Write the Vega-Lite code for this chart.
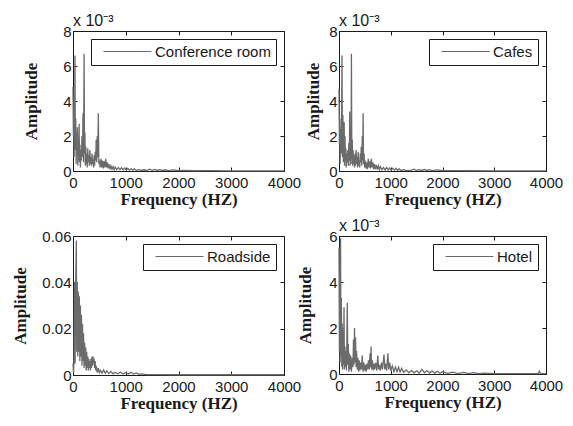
{
  "$schema": "https://vega.github.io/schema/vega-lite/v6.json",
  "background": "white",
  "padding": {"left": 11, "top": 12, "right": 5, "bottom": 5},
  "bounds": "flush",
  "columns": 2,
  "spacing": {"column": 55, "row": 65},
  "datasets": {
    "conf": [
      {"f":0,"a":4.8},{"f":8,"a":2.0},{"f":15,"a":3.5},{"f":22,"a":0.8},{"f":30,"a":2.8},{"f":38,"a":6.6},{"f":44,"a":1.2},{"f":52,"a":3.0},{"f":60,"a":0.4},{"f":68,"a":2.2},{"f":76,"a":0.9},{"f":84,"a":2.5},{"f":92,"a":0.3},{"f":100,"a":1.8},{"f":108,"a":0.6},{"f":116,"a":2.7},{"f":124,"a":0.5},{"f":132,"a":1.5},{"f":140,"a":0.2},{"f":150,"a":1.2},{"f":160,"a":0.6},{"f":170,"a":2.0},{"f":180,"a":0.8},{"f":190,"a":3.3},{"f":200,"a":0.5},{"f":210,"a":6.7},{"f":218,"a":1.0},{"f":226,"a":2.2},{"f":234,"a":0.3},{"f":242,"a":1.4},{"f":250,"a":0.4},{"f":260,"a":1.0},{"f":270,"a":0.2},{"f":280,"a":1.3},{"f":290,"a":0.5},{"f":300,"a":0.9},{"f":310,"a":0.3},{"f":320,"a":1.2},{"f":330,"a":0.4},{"f":340,"a":0.8},{"f":350,"a":0.3},{"f":360,"a":1.0},{"f":370,"a":0.4},{"f":380,"a":0.7},{"f":390,"a":0.2},{"f":400,"a":0.9},{"f":410,"a":0.3},{"f":420,"a":1.1},{"f":430,"a":0.6},{"f":440,"a":1.8},{"f":450,"a":0.5},{"f":460,"a":2.0},{"f":470,"a":0.8},{"f":480,"a":3.3},{"f":490,"a":0.4},{"f":500,"a":0.6},{"f":515,"a":0.2},{"f":530,"a":0.7},{"f":545,"a":0.2},{"f":560,"a":0.6},{"f":575,"a":0.15},{"f":590,"a":0.55},{"f":605,"a":0.2},{"f":620,"a":0.7},{"f":635,"a":0.2},{"f":650,"a":0.5},{"f":665,"a":0.15},{"f":680,"a":0.4},{"f":700,"a":0.1},{"f":720,"a":0.3},{"f":740,"a":0.1},{"f":760,"a":0.25},{"f":780,"a":0.08},{"f":800,"a":0.22},{"f":830,"a":0.08},{"f":860,"a":0.2},{"f":890,"a":0.07},{"f":920,"a":0.18},{"f":950,"a":0.06},{"f":980,"a":0.17},{"f":1010,"a":0.06},{"f":1040,"a":0.15},{"f":1070,"a":0.05},{"f":1100,"a":0.14},{"f":1130,"a":0.05},{"f":1160,"a":0.12},{"f":1200,"a":0.04},{"f":1250,"a":0.08},{"f":1300,"a":0.03},{"f":1350,"a":0.07},{"f":1400,"a":0.03},{"f":1450,"a":0.1},{"f":1500,"a":0.04},{"f":1550,"a":0.09},{"f":1600,"a":0.03},{"f":1650,"a":0.08},{"f":1700,"a":0.03},{"f":1750,"a":0.07},{"f":1800,"a":0.02},{"f":1900,"a":0.06},{"f":2000,"a":0.02},{"f":2100,"a":0.03},{"f":2300,"a":0.015},{"f":2600,"a":0.02},{"f":3000,"a":0.01},{"f":3500,"a":0.01},{"f":4000,"a":0.01}
    ],
    "cafe": [
      {"f":0,"a":4.7},{"f":8,"a":1.5},{"f":15,"a":3.0},{"f":22,"a":0.4},{"f":30,"a":2.4},{"f":40,"a":1.0},{"f":50,"a":3.4},{"f":58,"a":6.6},{"f":66,"a":0.8},{"f":75,"a":3.2},{"f":84,"a":0.5},{"f":92,"a":2.3},{"f":100,"a":2.8},{"f":108,"a":0.3},{"f":116,"a":2.0},{"f":124,"a":0.6},{"f":132,"a":1.3},{"f":140,"a":0.2},{"f":150,"a":1.0},{"f":160,"a":0.5},{"f":170,"a":1.2},{"f":180,"a":0.3},{"f":190,"a":1.6},{"f":200,"a":0.6},{"f":207,"a":3.4},{"f":215,"a":0.3},{"f":225,"a":1.0},{"f":233,"a":0.7},{"f":240,"a":6.7},{"f":248,"a":0.4},{"f":256,"a":1.8},{"f":264,"a":0.3},{"f":272,"a":1.2},{"f":280,"a":0.4},{"f":290,"a":0.9},{"f":300,"a":0.2},{"f":310,"a":1.0},{"f":320,"a":0.3},{"f":330,"a":1.2},{"f":340,"a":0.4},{"f":350,"a":0.8},{"f":360,"a":0.2},{"f":370,"a":1.1},{"f":380,"a":0.3},{"f":390,"a":0.6},{"f":400,"a":0.2},{"f":410,"a":1.0},{"f":420,"a":0.5},{"f":430,"a":1.4},{"f":440,"a":0.3},{"f":450,"a":2.0},{"f":458,"a":0.6},{"f":466,"a":3.3},{"f":474,"a":0.4},{"f":485,"a":1.0},{"f":495,"a":0.2},{"f":505,"a":0.6},{"f":520,"a":0.15},{"f":535,"a":0.5},{"f":550,"a":0.1},{"f":565,"a":0.7},{"f":580,"a":0.2},{"f":595,"a":0.55},{"f":610,"a":0.15},{"f":625,"a":0.7},{"f":640,"a":0.2},{"f":655,"a":0.5},{"f":670,"a":0.1},{"f":685,"a":0.4},{"f":700,"a":0.1},{"f":720,"a":0.35},{"f":740,"a":0.08},{"f":760,"a":0.3},{"f":780,"a":0.08},{"f":800,"a":0.25},{"f":830,"a":0.07},{"f":860,"a":0.2},{"f":890,"a":0.06},{"f":920,"a":0.2},{"f":950,"a":0.05},{"f":980,"a":0.18},{"f":1010,"a":0.05},{"f":1040,"a":0.16},{"f":1070,"a":0.04},{"f":1100,"a":0.15},{"f":1130,"a":0.04},{"f":1160,"a":0.12},{"f":1200,"a":0.03},{"f":1250,"a":0.08},{"f":1300,"a":0.02},{"f":1400,"a":0.05},{"f":1450,"a":0.1},{"f":1500,"a":0.03},{"f":1550,"a":0.08},{"f":1600,"a":0.03},{"f":1650,"a":0.09},{"f":1700,"a":0.03},{"f":1750,"a":0.08},{"f":1800,"a":0.02},{"f":1900,"a":0.06},{"f":2000,"a":0.02},{"f":2200,"a":0.02},{"f":2600,"a":0.015},{"f":3000,"a":0.01},{"f":4000,"a":0.01}
    ],
    "road": [
      {"f":0,"a":0.005},{"f":10,"a":0.001},{"f":20,"a":0.007},{"f":30,"a":0.040},{"f":40,"a":0.005},{"f":50,"a":0.038},{"f":63,"a":0.058},{"f":70,"a":0.010},{"f":80,"a":0.040},{"f":90,"a":0.008},{"f":100,"a":0.036},{"f":110,"a":0.010},{"f":120,"a":0.034},{"f":130,"a":0.006},{"f":140,"a":0.030},{"f":150,"a":0.008},{"f":160,"a":0.026},{"f":170,"a":0.004},{"f":180,"a":0.022},{"f":190,"a":0.006},{"f":200,"a":0.018},{"f":210,"a":0.003},{"f":220,"a":0.014},{"f":230,"a":0.004},{"f":240,"a":0.012},{"f":250,"a":0.002},{"f":260,"a":0.010},{"f":270,"a":0.003},{"f":280,"a":0.008},{"f":290,"a":0.002},{"f":300,"a":0.007},{"f":310,"a":0.003},{"f":320,"a":0.006},{"f":330,"a":0.002},{"f":340,"a":0.007},{"f":350,"a":0.003},{"f":360,"a":0.008},{"f":370,"a":0.004},{"f":380,"a":0.008},{"f":390,"a":0.005},{"f":400,"a":0.007},{"f":410,"a":0.003},{"f":420,"a":0.006},{"f":430,"a":0.002},{"f":440,"a":0.004},{"f":460,"a":0.001},{"f":480,"a":0.003},{"f":500,"a":0.001},{"f":520,"a":0.002},{"f":550,"a":0.0008},{"f":580,"a":0.0022},{"f":610,"a":0.0008},{"f":640,"a":0.0018},{"f":680,"a":0.0006},{"f":720,"a":0.0015},{"f":760,"a":0.0005},{"f":800,"a":0.0012},{"f":850,"a":0.0005},{"f":900,"a":0.0012},{"f":950,"a":0.0004},{"f":1000,"a":0.0011},{"f":1050,"a":0.0004},{"f":1100,"a":0.0012},{"f":1150,"a":0.0004},{"f":1200,"a":0.0009},{"f":1250,"a":0.0003},{"f":1300,"a":0.0005},{"f":1400,"a":0.0002},{"f":1600,"a":0.0002},{"f":2000,"a":0.0001},{"f":3000,"a":0.0001},{"f":4000,"a":0.0001}
    ],
    "hotel": [
      {"f":0,"a":5.5},{"f":8,"a":1.0},{"f":15,"a":3.4},{"f":22,"a":0.5},{"f":30,"a":5.9},{"f":38,"a":0.8},{"f":46,"a":3.3},{"f":54,"a":0.3},{"f":62,"a":2.2},{"f":70,"a":0.2},{"f":80,"a":1.9},{"f":88,"a":0.4},{"f":97,"a":2.9},{"f":105,"a":0.2},{"f":115,"a":1.2},{"f":125,"a":0.3},{"f":135,"a":1.0},{"f":145,"a":0.15},{"f":160,"a":3.1},{"f":170,"a":0.4},{"f":180,"a":1.3},{"f":190,"a":0.1},{"f":200,"a":0.9},{"f":212,"a":0.2},{"f":225,"a":0.8},{"f":240,"a":0.1},{"f":255,"a":0.7},{"f":270,"a":0.3},{"f":280,"a":1.5},{"f":290,"a":0.4},{"f":300,"a":2.0},{"f":310,"a":0.5},{"f":320,"a":1.6},{"f":330,"a":0.3},{"f":340,"a":1.0},{"f":352,"a":0.2},{"f":365,"a":0.7},{"f":378,"a":0.1},{"f":390,"a":0.6},{"f":405,"a":0.15},{"f":420,"a":0.5},{"f":435,"a":0.2},{"f":450,"a":0.8},{"f":465,"a":0.1},{"f":480,"a":0.5},{"f":495,"a":0.15},{"f":510,"a":0.4},{"f":525,"a":0.1},{"f":540,"a":0.45},{"f":555,"a":0.2},{"f":570,"a":0.6},{"f":585,"a":0.2},{"f":600,"a":0.9},{"f":612,"a":0.3},{"f":620,"a":1.2},{"f":630,"a":0.2},{"f":645,"a":0.6},{"f":660,"a":0.15},{"f":675,"a":0.45},{"f":690,"a":0.2},{"f":710,"a":0.5},{"f":730,"a":0.15},{"f":750,"a":0.8},{"f":765,"a":0.2},{"f":780,"a":0.4},{"f":800,"a":0.15},{"f":820,"a":0.5},{"f":840,"a":0.2},{"f":870,"a":0.85},{"f":885,"a":0.2},{"f":900,"a":0.45},{"f":920,"a":0.15},{"f":945,"a":0.9},{"f":960,"a":0.2},{"f":980,"a":0.5},{"f":1000,"a":0.15},{"f":1030,"a":0.35},{"f":1060,"a":0.1},{"f":1090,"a":0.3},{"f":1120,"a":0.1},{"f":1150,"a":0.3},{"f":1180,"a":0.08},{"f":1210,"a":0.25},{"f":1250,"a":0.07},{"f":1300,"a":0.18},{"f":1350,"a":0.05},{"f":1400,"a":0.15},{"f":1450,"a":0.05},{"f":1500,"a":0.14},{"f":1550,"a":0.04},{"f":1600,"a":0.2},{"f":1650,"a":0.05},{"f":1700,"a":0.15},{"f":1750,"a":0.04},{"f":1800,"a":0.13},{"f":1850,"a":0.04},{"f":1900,"a":0.12},{"f":1950,"a":0.03},{"f":2000,"a":0.1},{"f":2100,"a":0.03},{"f":2200,"a":0.08},{"f":2300,"a":0.02},{"f":2400,"a":0.07},{"f":2500,"a":0.02},{"f":2600,"a":0.06},{"f":2700,"a":0.02},{"f":2800,"a":0.04},{"f":3000,"a":0.02},{"f":3300,"a":0.02},{"f":3600,"a":0.02},{"f":3850,"a":0.02},{"f":3870,"a":0.12},{"f":3890,"a":0.02},{"f":4000,"a":0.02}
    ]
  },
  "concat": [
    {
      "width": 211, "height": 140,
      "title": {"text": "x 10⁻³"},
      "data": {"name": "conf"},
      "layer": [
        {"mark": {"type": "line", "strokeWidth": 1.3},
         "encoding": {
           "x": {"field": "f", "type": "quantitative", "scale": {"domain": [0, 4000], "nice": false}, "axis": {"values": [0,1000,2000,3000,4000], "format": "d", "title": "Frequency (HZ)"}},
           "y": {"field": "a", "type": "quantitative", "scale": {"domain": [0, 8], "nice": false}, "axis": {"values": [0,2,4,6,8], "format": "d", "title": "Amplitude", "titlePadding": 22}},
           "color": {"datum": "Conference room", "scale": {"range": ["#6b6b6b"]}}
         }},
        {"mark": {"type": "line", "strokeOpacity": 0},
         "encoding": {
           "x": {"field": "f", "type": "quantitative", "axis": {"orient": "top", "values": [0,1000,2000,3000,4000], "labels": false, "title": null}},
           "y": {"field": "a", "type": "quantitative", "axis": {"orient": "right", "values": [0,2,4,6,8], "labels": false, "title": null}}
         }}
      ],
      "resolve": {"axis": {"x": "independent", "y": "independent"}}
    },
    {
      "width": 207, "height": 140,
      "title": {"text": "x 10⁻³"},
      "data": {"name": "cafe"},
      "layer": [
        {"mark": {"type": "line", "strokeWidth": 1.3},
         "encoding": {
           "x": {"field": "f", "type": "quantitative", "scale": {"domain": [0, 4000], "nice": false}, "axis": {"values": [0,1000,2000,3000,4000], "format": "d", "title": "Frequency (HZ)"}},
           "y": {"field": "a", "type": "quantitative", "scale": {"domain": [0, 8], "nice": false}, "axis": {"values": [0,2,4,6,8], "format": "d", "title": "Amplitude", "titlePadding": 6}},
           "color": {"datum": "Cafes", "scale": {"range": ["#6b6b6b"]}}
         }},
        {"mark": {"type": "line", "strokeOpacity": 0},
         "encoding": {
           "x": {"field": "f", "type": "quantitative", "axis": {"orient": "top", "values": [0,1000,2000,3000,4000], "labels": false, "title": null}},
           "y": {"field": "a", "type": "quantitative", "axis": {"orient": "right", "values": [0,2,4,6,8], "labels": false, "title": null}}
         }}
      ],
      "resolve": {"axis": {"x": "independent", "y": "independent"}}
    },
    {
      "width": 211, "height": 139,
      "data": {"name": "road"},
      "layer": [
        {"mark": {"type": "line", "strokeWidth": 1.3},
         "encoding": {
           "x": {"field": "f", "type": "quantitative", "scale": {"domain": [0, 4000], "nice": false}, "axis": {"values": [0,1000,2000,3000,4000], "format": "d", "title": "Frequency (HZ)"}},
           "y": {"field": "a", "type": "quantitative", "scale": {"domain": [0, 0.06], "nice": false}, "axis": {"values": [0,0.02,0.04,0.06], "labelExpr": "datum.value == 0 ? '0' : format(datum.value, '.2f')", "title": "Amplitude", "titlePadding": 12}},
           "color": {"datum": "Roadside", "scale": {"range": ["#6b6b6b"]}}
         }},
        {"mark": {"type": "line", "strokeOpacity": 0},
         "encoding": {
           "x": {"field": "f", "type": "quantitative", "axis": {"orient": "top", "values": [0,1000,2000,3000,4000], "labels": false, "title": null}},
           "y": {"field": "a", "type": "quantitative", "axis": {"orient": "right", "values": [0,0.02,0.04,0.06], "labels": false, "title": null}}
         }}
      ],
      "resolve": {"axis": {"x": "independent", "y": "independent"}}
    },
    {
      "width": 207, "height": 138,
      "title": {"text": "x 10⁻³"},
      "data": {"name": "hotel"},
      "layer": [
        {"mark": {"type": "line", "strokeWidth": 1.3},
         "encoding": {
           "x": {"field": "f", "type": "quantitative", "scale": {"domain": [0, 4000], "nice": false}, "axis": {"values": [0,1000,2000,3000,4000], "format": "d", "title": "Frequency (HZ)"}},
           "y": {"field": "a", "type": "quantitative", "scale": {"domain": [0, 6], "nice": false}, "axis": {"values": [0,2,4,6], "format": "d", "title": "Amplitude", "titlePadding": 14}},
           "color": {"datum": "Hotel", "scale": {"range": ["#6b6b6b"]}}
         }},
        {"mark": {"type": "line", "strokeOpacity": 0},
         "encoding": {
           "x": {"field": "f", "type": "quantitative", "axis": {"orient": "top", "values": [0,1000,2000,3000,4000], "labels": false, "title": null}},
           "y": {"field": "a", "type": "quantitative", "axis": {"orient": "right", "values": [0,2,4,6], "labels": false, "title": null}}
         }}
      ],
      "resolve": {"axis": {"x": "independent", "y": "independent"}}
    }
  ],
  "resolve": {"scale": {"color": "independent", "x": "independent", "y": "independent"}},
  "config": {
    "view": {"stroke": "#1a1a1a", "strokeWidth": 1},
    "axis": {
      "grid": false, "domain": false,
      "tickSize": -4, "tickColor": "#1a1a1a", "tickWidth": 1,
      "labelFont": "Liberation Sans", "labelFontSize": 15, "labelColor": "#1a1a1a", "labelPadding": 6, "labelFlush": false, "labelOverlap": false,
      "titleFont": "Liberation Serif", "titleFontSize": 17, "titleFontWeight": "bold", "titleColor": "#1a1a1a", "titlePadding": 2
    },
    "axisX": {"labelPadding": 8, "titlePadding": 1},
    "title": {"font": "Liberation Sans", "fontSize": 16, "fontWeight": "normal", "anchor": "start", "color": "#1a1a1a", "offset": -5, "frame": "group"},
    "legend": {
      "orient": "top-right", "offset": 8, "title": null,
      "fillColor": "white", "strokeColor": "#1a1a1a", "strokeWidth": 1, "padding": 5,
      "labelFont": "Liberation Sans", "labelFontSize": 15, "labelColor": "#1a1a1a",
      "symbolType": "M-4,0H4", "symbolSize": 144, "symbolStrokeWidth": 1, "symbolOffset": 24, "labelOffset": 20
    }
  }
}
